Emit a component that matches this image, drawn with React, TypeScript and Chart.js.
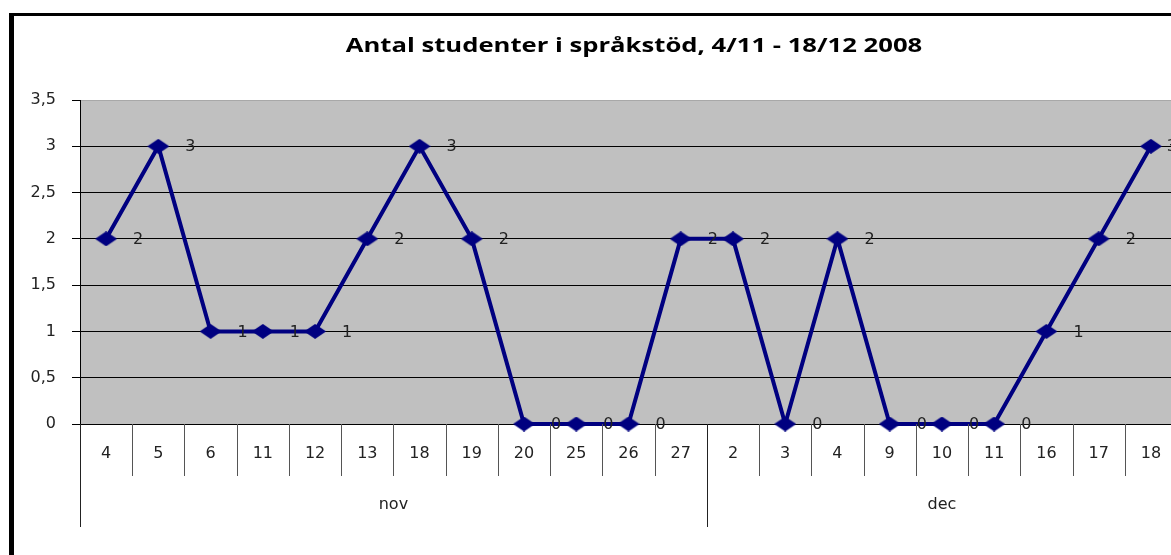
import React, { useEffect, useRef } from 'react';
import { Chart, registerables } from 'chart.js';

Chart.register(...registerables);

const chartTitle = 'Antal studenter i språkstöd, 4/11 - 18/12 2008';
const dayLabels = ['4', '5', '6', '11', '12', '13', '18', '19', '20', '25', '26', '27', '2', '3', '4', '9', '10', '11', '16', '17', '18'];
const monthNames = ['nov', 'dec'];
const monthDayCounts = [12, 9];
const studentCounts = [2, 3, 1, 1, 1, 2, 3, 2, 0, 0, 0, 2, 2, 0, 2, 0, 0, 0, 1, 2, 3];
const yMin = 0;
const yMax = 3.5;
const yStep = 0.5;

const FONT = '"DejaVu Sans", sans-serif';
const TITLE_FONT = '"Open Sans", sans-serif';
const LINE_COLOR = '#000080';

function makeDiamond(w: number, h: number, color: string) {
  const c = document.createElement('canvas');
  c.width = w;
  c.height = h;
  const g = c.getContext('2d')!;
  g.fillStyle = color;
  g.beginPath();
  g.moveTo(w / 2, 0);
  g.lineTo(w, h / 2);
  g.lineTo(w / 2, h);
  g.lineTo(0, h / 2);
  g.closePath();
  g.fill();
  return c;
}

const plotBgPlugin = {
  id: 'plotBg',
  beforeDraw(chart: any) {
    const { ctx, chartArea } = chart;
    ctx.save();
    ctx.fillStyle = '#c0c0c0';
    ctx.fillRect(chartArea.left, chartArea.top, chartArea.right - chartArea.left, chartArea.bottom - chartArea.top);
    ctx.restore();
  },
};

const stretchedTitlePlugin = {
  id: 'stretchedTitle',
  afterDraw(chart: any) {
    const { ctx } = chart;
    ctx.save();
    ctx.font = `bold 19px ${TITLE_FONT}`;
    ctx.fillStyle = '#000';
    ctx.textAlign = 'center';
    ctx.textBaseline = 'middle';
    ctx.translate(chart.width / 2, 31);
    ctx.scale(1.35, 1);
    ctx.fillText(chartTitle, 0, 0);
    ctx.restore();
  },
};

const valueLabelPlugin = {
  id: 'valueLabels',
  afterDatasetsDraw(chart: any) {
    const { ctx, chartArea } = chart;
    const meta = chart.getDatasetMeta(0);
    const data = chart.data.datasets[0].data;
    ctx.save();
    ctx.font = `16px ${FONT}`;
    ctx.fillStyle = '#222';
    ctx.textAlign = 'left';
    ctx.textBaseline = 'middle';
    meta.data.forEach((pt: any, i: number) => {
      const text = String(data[i]);
      const w = ctx.measureText(text).width;
      const x = Math.min(pt.x + 27, chartArea.right - w);
      ctx.fillText(text, x, pt.y + 1);
    });
    ctx.restore();
  },
};

const groupAxisPlugin = {
  id: 'groupAxis',
  afterDraw(chart: any) {
    const { ctx, chartArea } = chart;
    const xs = chart.scales.x;
    const n = dayLabels.length;
    const half = (xs.getPixelForValue(1) - xs.getPixelForValue(0)) / 2;
    const boundaries = new Set<number>([0]);
    let acc = 0;
    monthDayCounts.forEach((c) => {
      acc += c;
      boundaries.add(acc);
    });
    const bottom = chartArea.bottom;
    ctx.save();
    ctx.lineWidth = 1;
    for (let b = 0; b <= n; b++) {
      const x = b < n ? xs.getPixelForValue(b) - half : xs.getPixelForValue(n - 1) + half;
      const len = boundaries.has(b) ? 103 : 52;
      ctx.strokeStyle = boundaries.has(b) ? '#222' : '#555';
      ctx.beginPath();
      const px = Math.round(x) + 0.5;
      ctx.moveTo(px, bottom);
      ctx.lineTo(px, bottom + len);
      ctx.stroke();
    }
    ctx.font = `16px ${FONT}`;
    ctx.fillStyle = '#222';
    ctx.textAlign = 'center';
    ctx.textBaseline = 'middle';
    let start = 0;
    monthNames.forEach((name, gi) => {
      const end = start + monthDayCounts[gi] - 1;
      const l = xs.getPixelForValue(start) - half;
      const r = xs.getPixelForValue(end) + half;
      ctx.fillText(name, (l + r) / 2, bottom + 81);
      start = end + 1;
    });
    ctx.restore();
  },
};

export default function App() {
  const ref = useRef<HTMLCanvasElement>(null);

  useEffect(() => {
    if (!ref.current) return;
    const diamond = makeDiamond(22, 15, LINE_COLOR);
    const chart = new Chart(ref.current, {
      type: 'line',
      data: {
        labels: dayLabels,
        datasets: [
          {
            data: studentCounts,
            borderColor: LINE_COLOR,
            backgroundColor: LINE_COLOR,
            borderWidth: 4,
            pointStyle: diamond as any,
            pointRadius: 8,
            tension: 0,
            clip: false as any,
          },
        ],
      },
      options: {
        responsive: false,
        animation: false,
        devicePixelRatio: 1,
        layout: { padding: { top: 84, left: 0, right: 77, bottom: 0 } },
        plugins: {
          legend: { display: false },
          tooltip: { enabled: false },
          title: { display: false },
        },
        scales: {
          x: {
            type: 'category',
            offset: true,
            grid: { display: false, drawTicks: false },
            border: { display: true, color: '#000', width: 1 },
            ticks: {
              color: '#222',
              font: { family: FONT, size: 16 },
              padding: 20,
              autoSkip: false,
              maxRotation: 0,
            },
            afterFit: (s: any) => {
              s.height = 152;
            },
          },
          y: {
            min: yMin,
            max: yMax,
            grid: {
              color: (c: any) => (c.tick && c.tick.value === yMax ? '#a8a8a8' : '#000'),
              tickColor: '#000',
              tickLength: 8,
              lineWidth: 1,
            },
            border: { display: true, color: '#000', width: 1 },
            ticks: {
              stepSize: yStep,
              color: '#222',
              font: { family: FONT, size: 16 },
              padding: 16,
              callback: (v: any) => String(v).replace('.', ','),
            },
            afterFit: (s: any) => {
              s.width = 66;
            },
          },
        },
      },
      plugins: [plotBgPlugin, valueLabelPlugin, groupAxisPlugin, stretchedTitlePlugin],
    });
    return () => chart.destroy();
  }, []);

  return (
    <div
      style={{
        position: 'fixed',
        left: 0,
        top: 0,
        width: 1171,
        height: 555,
        overflow: 'hidden',
        background: '#fff',
      }}
    >
      <div
        style={{
          position: 'absolute',
          left: 9,
          top: 13,
          width: 1400,
          height: 700,
          borderLeft: '5px solid #000',
          borderTop: '3px solid #000',
        }}
      >
        <canvas
          ref={ref}
          width={1240}
          height={560}
          style={{ position: 'absolute', left: 0, top: 0, width: 1240, height: 560 }}
        />
      </div>
    </div>
  );
}
